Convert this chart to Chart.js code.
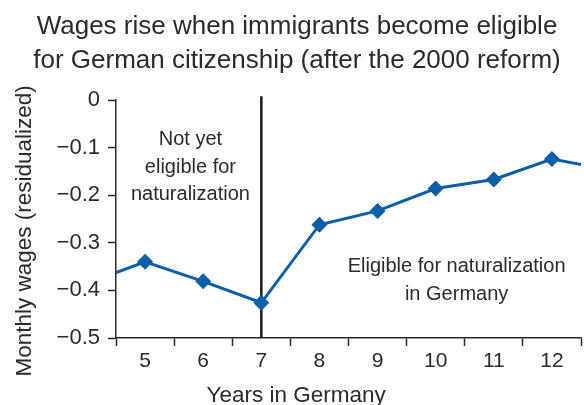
<!DOCTYPE html>
<html>
<head>
<meta charset="utf-8">
<script src="https://cdn.jsdelivr.net/npm/chart.js@4.4.0/dist/chart.umd.min.js"></script>
<style>
  html, body { margin: 0; padding: 0; background: #fff; }
  #wrap { width: 584px; height: 405px; }
</style>
</head>
<body>
<div id="wrap"><canvas id="wage-chart"></canvas></div>
<script>
// data
var years = [4, 5, 6, 7, 8, 9, 10, 11, 12, 13];
var wages = [-0.385, -0.340, -0.381, -0.426, -0.262, -0.233, -0.186, -0.167, -0.124, -0.147];
var yTicks = [0, -0.1, -0.2, -0.3, -0.4, -0.5];
var xLabels = [5, 6, 7, 8, 9, 10, 11, 12];
var reformYear = 7;
var reformLine = [0.008, -0.5];

var titleLines = ['Wages rise when immigrants become eligible', 'for German citizenship (after the 2000 reform)'];

var blue = '#0b5ea8';
var ink = '#2b2b2b';
var fontFam = '"Liberation Sans", Arial, sans-serif';

var points = years.map(function(y, i){ return {x: y, y: wages[i]}; });
var divider = reformLine.map(function(v){ return {x: reformYear, y: v}; });

// title, axis titles and the two notes
var notes = {
  id: 'notes',
  afterDatasetsDraw: function(chart){
    var c = chart.ctx, x = chart.scales.x, y = chart.scales.y;
    c.save();
    c.fillStyle = ink;
    c.textAlign = 'center';
    c.textBaseline = 'alphabetic';

    c.font = '26px ' + fontFam;
    c.fillText(titleLines[0], 297, 34);
    c.fillText(titleLines[1], 297, 68);

    c.font = '20px ' + fontFam;
    var cx = x.getPixelForValue(5.78);
    c.fillText('Not yet', cx, y.getPixelForValue(-0.095));
    c.fillText('eligible for', cx, y.getPixelForValue(-0.154));
    c.fillText('naturalization', cx, y.getPixelForValue(-0.211));
    var cx2 = x.getPixelForValue(10.36);
    c.fillText('Eligible for naturalization', cx2, y.getPixelForValue(-0.362));
    c.fillText('in Germany', cx2, y.getPixelForValue(-0.42));

    c.font = '22.5px ' + fontFam;
    c.fillText('Years in Germany', x.getPixelForValue(7.6), 402);

    c.translate(31, y.getPixelForValue(-0.275));
    c.rotate(-Math.PI / 2);
    c.fillText('Monthly wages (residualized)', 0, 0);
    c.restore();
  }
};

new Chart(document.getElementById('wage-chart'), {
  type: 'line',
  data: {
    datasets: [{
      data: points,
      borderColor: blue,
      backgroundColor: blue,
      borderWidth: 3,
      pointStyle: 'rectRot',
      pointRadius: function(ctx){
        var v = ctx.raw && ctx.raw.x;
        return (v < 4.5 || v > 12.5) ? 0 : 8;
      },
      pointBorderWidth: 0,
      tension: 0
    }, {
      data: divider,
      borderColor: '#1a1a1a',
      borderWidth: 2.5,
      pointRadius: 0,
      clip: false
    }]
  },
  options: {
    responsive: true,
    maintainAspectRatio: false,
    animation: false,
    layout: { padding: { left: 0, right: 0, top: 100, bottom: 0 } },
    plugins: {
      legend: { display: false },
      tooltip: { enabled: false },
      title: { display: false }
    },
    scales: {
      x: {
        type: 'linear',
        min: 4.5,
        max: 12.5,
        afterBuildTicks: function(axis){
          var t = [];
          for (var v = 4.5; v <= 12.5; v += 0.5) t.push({value: v});
          axis.ticks = t;
        },
        afterFit: function(axis){ axis.height = 67; },
        border: { color: ink, width: 1.5 },
        grid: {
          drawOnChartArea: false,
          drawTicks: true,
          tickLength: 8,
          tickWidth: 1.5,
          tickColor: function(ctx){
            return (ctx.tick && ctx.tick.value % 1 !== 0) ? ink : 'rgba(0,0,0,0)';
          }
        },
        ticks: {
          autoSkip: false,
          maxRotation: 0,
          color: ink,
          font: { family: fontFam, size: 21 },
          padding: 3,
          callback: function(v){ return xLabels.indexOf(v) >= 0 ? String(v) : ''; }
        }
      },
      y: {
        min: -0.5,
        max: 0,
        afterBuildTicks: function(axis){
          axis.ticks = yTicks.map(function(v){ return {value: v}; });
        },
        afterFit: function(axis){ axis.width = 116; },
        border: { color: ink, width: 1.5 },
        grid: {
          drawOnChartArea: false,
          drawTicks: true,
          tickLength: 8,
          tickWidth: 1.5,
          tickColor: ink
        },
        ticks: {
          color: ink,
          font: { family: fontFam, size: 22 },
          padding: 8,
          callback: function(v){
            return v === 0 ? '0' : '\u2212' + Math.abs(v).toFixed(1);
          }
        }
      }
    }
  },
  plugins: [notes]
});
</script>
</body>
</html>
